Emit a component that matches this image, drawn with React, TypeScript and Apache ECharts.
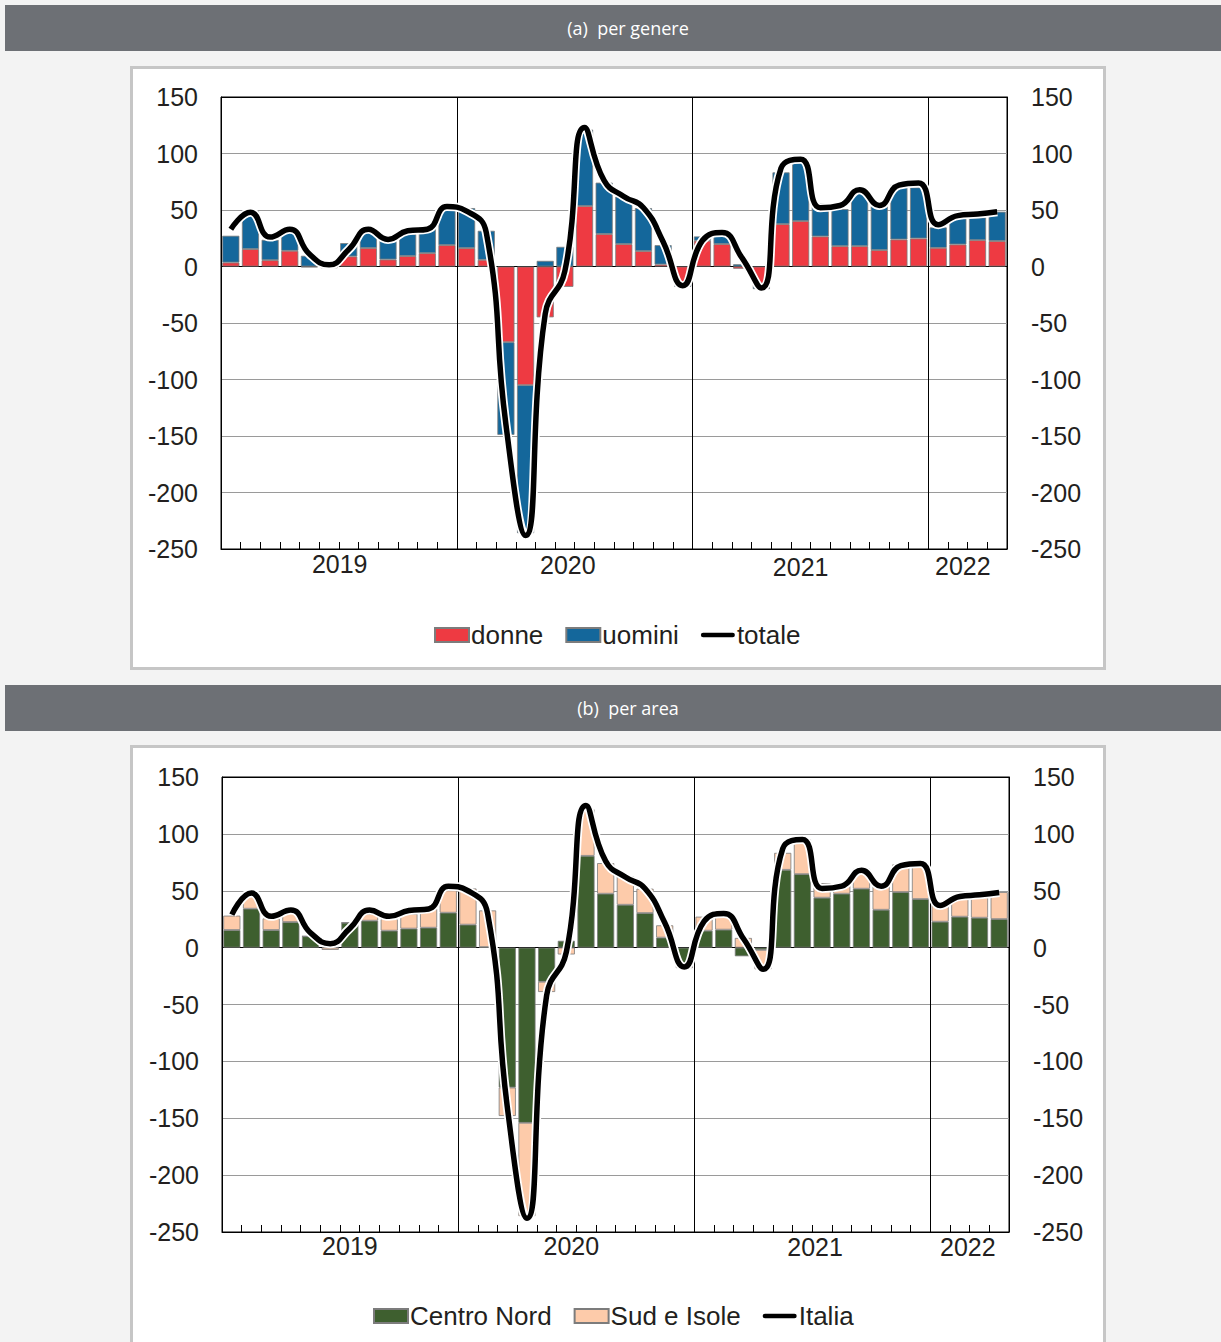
import React, { useEffect, useRef } from 'react';
import * as echarts from 'echarts';

// ---------- DATA ----------
const months = [
  '2019-01','2019-02','2019-03','2019-04','2019-05','2019-06','2019-07','2019-08','2019-09','2019-10','2019-11','2019-12',
  '2020-01','2020-02','2020-03','2020-04','2020-05','2020-06','2020-07','2020-08','2020-09','2020-10','2020-11','2020-12',
  '2021-01','2021-02','2021-03','2021-04','2021-05','2021-06','2021-07','2021-08','2021-09','2021-10','2021-11','2021-12',
  '2022-01','2022-02','2022-03','2022-04',
];

const donne = [
  3.5, 15.4, 5.6, 13.9, -0.8, -1.5, 8.9, 16.3, 6.2, 9.2, 11.8, 18.9,
  16.3, 5.9, -67, -105, -45, -18, 53.5, 28.7, 19.8, 13.6, 1.8, -14,
  22.8, 19.8, -2, -15, 37.5, 40.2, 26.6, 18, 18, 14.5, 23.9, 24.8,
  16.5, 19.5, 23.3, 22.5,
];
const uomini = [
  23.7, 33.4, 18, 18.3, 9.5, 2.7, 11.8, 13.8, 17.1, 19.5, 21.9, 31,
  35.4, 25.7, -82, -131, 5, 17.4, 67.7, 45.5, 42, 38.1, 17.1, -4,
  3.8, 8, 2, -5, 45.8, 54.4, 29.5, 32.8, 50.3, 39, 48.5, 45.2,
  18.1, 24.8, 20.1, 26,
];
const totale = [
  33, 48, 26, 33, 11, 1.5, 15, 33, 24, 31.6, 33, 53,
  49, 30, -140, -238, -42, -4, 123, 76, 62, 52, 22, -17,
  23, 30, 8, -19, 87, 95, 52, 54, 68, 54, 72, 74,
  37, 45, 46.4, 48.5,
];

const centroNord = [
  15.5, 34.2, 15.5, 22.5, 10, 0.5, 21.9, 23.7, 14.9, 16.7, 17.5, 30.7,
  20.2, 0.5, -123, -154, -30, 6, 80.7, 47.4, 37.7, 30.4, 8.8, -14,
  14.9, 15.8, -7.6, -2, 68.4, 64.6, 43.9, 47.4, 51.8, 33.3, 48.8, 42.7,
  22.8, 27.2, 26.3, 25.1,
];
const sudIsole = [
  12.6, 12.5, 10.2, 10.8, 0, -2, 0, 6.1, 10.2, 13.1, 16.7, 19.6,
  31.8, 32.2, -25, -82, -9, -6, 40.9, 26.9, 24.9, 21.4, 10.8, -4,
  12.3, 12.9, 8.5, -17, 14.9, 30.7, 12.8, 7, 17.5, 20.5, 24.3, 28.4,
  16.4, 16.4, 17.9, 23.7,
];
const italia = [
  29, 48, 27.5, 33, 13, 3.5, 17, 33, 27.5, 32.7, 34, 54,
  50, 30, -140, -238, -42, -4, 125, 76, 62, 52, 22, -17,
  23, 30, 8, -19, 87, 95, 52, 54, 68, 54, 72, 74,
  37, 45, 46.4, 48.5,
];

const yMin = -250;
const yMax = 150;
const yStep = 50;
const yearLabels = ['2019', '2020', '2021', '2022'];
const yearBoundaryIdx = [12, 24, 36];

// ---------- STYLE ----------
const FONT = '"Liberation Sans", Arial, Helvetica, sans-serif';
const TXT = '#231f20';
const LINE_ICON = 'path://M2.5,0 H35.5 A2.5,2.5 0 0 1 35.5,5 H2.5 A2.5,2.5 0 0 1 2.5,0 Z';

type PanelCfg = {
  gridLeft: number; gridTop: number; gridWidth: number; gridHeight: number;
  legendLeft: number; legendTop: number;
  names: [string, string, string];
  colors: [string, string];
  a: number[]; b: number[]; line: number[];
  yearIdx: number[]; yearDx: number[]; yearDy: number[]; labelMargin: number;
};

function makeOption(p: PanelCfg): any {
  const rich: any = {};
  p.yearIdx.forEach((_, k) => {
    const dx = p.yearDx[k];
    const dy = p.yearDy[k];
    rich['y' + k] = {
      fontFamily: FONT, fontSize: 25, color: TXT, lineHeight: 25,
      padding: [dy, dx < 0 ? -2 * dx : 0, 0, dx > 0 ? 2 * dx : 0],
    };
  });
  const nLines = (yMax - yMin) / yStep + 1;
  const splitColors: string[] = [];
  for (let i = 0; i < nLines; i++) {
    const v = yMin + i * yStep;
    splitColors.push(v === 0 || v === yMin || v === yMax ? '#000' : '#9a9a9a');
  }
  const yCommon = {
    type: 'value', min: yMin, max: yMax, interval: yStep,
    axisTick: { show: false },
  };
  const barStyle = (c: string) => ({ color: c, borderColor: '#7c7c7c', borderWidth: 0.8 });
  return {
    animation: false,
    grid: {
      left: p.gridLeft, top: p.gridTop, width: p.gridWidth, height: p.gridHeight,
      show: true, borderColor: '#000', borderWidth: 1, backgroundColor: 'transparent',
    },
    legend: {
      left: p.legendLeft, top: p.legendTop, padding: 0,
      data: [
        { name: p.names[0], icon: 'rect' },
        { name: p.names[1], icon: 'rect' },
        { name: p.names[2], icon: LINE_ICON },
      ],
      itemWidth: 34, itemHeight: 14, itemGap: 22,
      textStyle: { fontFamily: FONT, fontSize: 26, color: TXT, padding: [0, 0, 0, -3] },
    },
    xAxis: {
      type: 'category', data: months, boundaryGap: true,
      axisLine: { show: true, onZero: false, lineStyle: { color: '#000', width: 1 } },
      axisTick: { show: true, inside: true, length: 7, interval: 0, lineStyle: { color: '#000', width: 1 } },
      axisLabel: {
        interval: (i: number) => p.yearIdx.indexOf(i) >= 0,
        formatter: (_v: string, i: number) => {
          const k = p.yearIdx.indexOf(i);
          return k >= 0 ? `{y${k}|${yearLabels[k]}}` : '';
        },
        rich, margin: p.labelMargin, fontFamily: FONT, fontSize: 25, color: TXT,
      },
      splitLine: {
        show: true,
        interval: (i: number) => yearBoundaryIdx.indexOf(i) >= 0,
        lineStyle: { color: '#000', width: 1 },
      },
    },
    yAxis: [
      {
        ...yCommon, position: 'left',
        axisLine: { show: true, lineStyle: { color: '#000', width: 1 } },
        axisLabel: { margin: 23, fontFamily: FONT, fontSize: 25, color: TXT },
        splitLine: { show: true, lineStyle: { color: splitColors, width: 1 } },
      },
      {
        ...yCommon, position: 'right',
        axisLine: { show: true, lineStyle: { color: '#000', width: 1 } },
        axisLabel: { margin: 24, fontFamily: FONT, fontSize: 25, color: TXT },
        splitLine: { show: false },
      },
    ],
    series: [
      {
        name: p.names[0], type: 'bar', stack: 'tot', data: p.a,
        barCategoryGap: '13%', itemStyle: barStyle(p.colors[0]), z: 2,
      },
      {
        name: p.names[1], type: 'bar', stack: 'tot', data: p.b,
        barCategoryGap: '13%', itemStyle: barStyle(p.colors[1]), z: 2,
      },
      {
        name: '_halo', type: 'line', data: p.line, smooth: 0.5, symbol: 'none', silent: true,
        lineStyle: { color: '#ffffff', width: 9 }, z: 4,
      },
      {
        name: p.names[2], type: 'line', data: p.line, smooth: 0.5, symbol: 'none',
        lineStyle: { color: '#000000', width: 5.5 }, itemStyle: { color: '#000' }, z: 5,
      },
    ],
  };
}

const optA = makeOption({
  gridLeft: 221, gridTop: 97, gridWidth: 786, gridHeight: 452,
  legendLeft: 434, legendTop: 622,
  names: ['donne', 'uomini', 'totale'],
  colors: ['#ee3a42', '#14679b'],
  a: donne, b: uomini, line: totale,
  yearIdx: [6, 17, 29, 37], yearDx: [-9, 3, 0, 5], yearDy: [0, 2.5, 6, 3], labelMargin: 2.5,
});

const optB = makeOption({
  gridLeft: 222, gridTop: 97, gridWidth: 787, gridHeight: 455,
  legendLeft: 373, legendTop: 623,
  names: ['Centro Nord', 'Sud e Isole', 'Italia'],
  colors: ['#3e5f2f', '#fdcbaa'],
  a: centroNord, b: sudIsole, line: italia,
  yearIdx: [6, 17, 30, 37], yearDx: [0, 5, -7, 8], yearDy: [0, 1, 3.5, 3.5], labelMargin: 1,
});

const headerStyle: React.CSSProperties = {
  position: 'absolute', left: 5, width: 1216, height: 46, background: '#6d7075',
  color: '#fff', fontFamily: '"Open Sans", sans-serif', fontSize: 18, lineHeight: '46px',
  textAlign: 'center', paddingLeft: 30, boxSizing: 'border-box', whiteSpace: 'pre',
};
const boxStyle: React.CSSProperties = {
  position: 'absolute', left: 130, width: 976, background: '#fff',
  border: '3px solid #c6c6c6', boxSizing: 'border-box',
};

export default function App() {
  const refA = useRef<HTMLDivElement>(null);
  const refB = useRef<HTMLDivElement>(null);
  useEffect(() => {
    document.body.style.margin = '0';
    const a = echarts.init(refA.current!, null, { renderer: 'svg' });
    a.setOption(optA);
    const b = echarts.init(refB.current!, null, { renderer: 'svg' });
    b.setOption(optB);
    return () => { a.dispose(); b.dispose(); };
  }, []);
  return (
    <div style={{ position: 'relative', width: 1221, height: 1342, background: '#f3f3f3', overflow: 'hidden' }}>
      <div style={{ ...headerStyle, top: 5 }}>{'(a)  per genere'}</div>
      <div style={{ ...boxStyle, top: 66, height: 604 }} />
      <div style={{ ...headerStyle, top: 685 }}>{'(b)  per area'}</div>
      <div style={{ ...boxStyle, top: 745, height: 640 }} />
      <div ref={refA} style={{ position: 'absolute', left: 0, top: 0, width: 1221, height: 680 }} />
      <div ref={refB} style={{ position: 'absolute', left: 0, top: 680, width: 1221, height: 662 }} />
    </div>
  );
}
